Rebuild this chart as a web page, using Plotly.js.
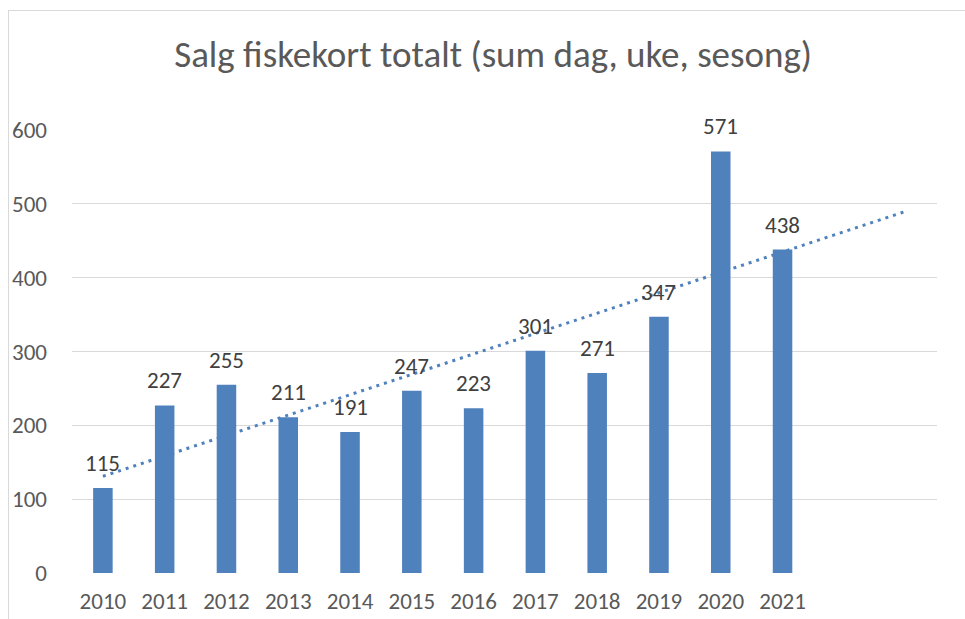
<!DOCTYPE html>
<html>
<head>
<meta charset="utf-8">
<script src="https://cdn.plot.ly/plotly-3.0.1.min.js"></script>
<style>
  html, body { margin: 0; padding: 0; background: #fff; overflow: hidden; }
  #chart { width: 965px; height: 619px; position: absolute; left: 0; top: 0; }
  #frame { position: absolute; left: 8px; top: 10px; width: 980px; height: 640px;
           border: 1px solid #D9D9D9; pointer-events: none; }
</style>
</head>
<body>
<div id="chart"></div>
<div id="frame"></div>
<script>
const years = [2010, 2011, 2012, 2013, 2014, 2015, 2016, 2017, 2018, 2019, 2020, 2021];
const sales = [115, 227, 255, 211, 191, 247, 223, 301, 271, 347, 571, 438];
const tickLabels = ['2010','2011','2012','2013','2014','2015','2016','2017','2018','2019','2020','2021'];
const trendYears = [2010, 2023];
const trendValues = [131, 490];
const yTicks = [0, 100, 200, 300, 400, 500, 600];

const FONT = 'Carlito, Calibri, Lato, sans-serif';
const barColor = '#4F81BD';

const bars = {
  type: 'bar', x: years, y: sales,
  marker: { color: barColor },
  hoverinfo: 'x+y', showlegend: false
};
const trend = {
  type: 'scatter', mode: 'lines', x: trendYears, y: trendValues,
  line: { color: '#4F81BD', width: 3, dash: '3px,5px' },
  hoverinfo: 'skip', showlegend: false
};

const annotations = years.map((yr, i) => ({
  x: yr, y: sales[i], xref: 'x', yref: 'y',
  text: String(sales[i]), showarrow: false,
  yanchor: 'bottom', yshift: 9,
  font: { family: FONT, size: 23, color: '#404040' }
}));

const layout = {
  width: 965, height: 619,
  margin: { l: 72, r: 28, t: 130, b: 46 },
  paper_bgcolor: '#ffffff', plot_bgcolor: '#ffffff',
  font: { family: FONT, color: '#595959' },
  title: {
    text: 'Salg fiskekort totalt (sum dag, uke, sesong)',
    font: { family: FONT, size: 37, color: '#595959' },
    xref: 'container', x: 0.511, xanchor: 'center',
    yref: 'container', y: 1 - 54 / 619, yanchor: 'middle'
  },
  bargap: 0.684,
  xaxis: {
    range: [2009.5, 2023.5], tickmode: 'array', tickvals: years, ticktext: tickLabels,
    showgrid: false, zeroline: false, showline: false, ticks: '',
    tickfont: { family: FONT, size: 23, color: '#595959' },
    ticklabelstandoff: 12, fixedrange: true
  },
  yaxis: {
    range: [0, 600], tickmode: 'array', tickvals: yTicks,
    showgrid: true, gridcolor: '#D9D9D9', gridwidth: 1.3,
    zeroline: false, showline: false, ticks: '',
    tickfont: { family: FONT, size: 23, color: '#595959' },
    ticklabelstandoff: 24, fixedrange: true
  },
  annotations: annotations
};

Plotly.newPlot('chart', [bars, trend], layout, { displayModeBar: false, staticPlot: true });
</script>
</body>
</html>
